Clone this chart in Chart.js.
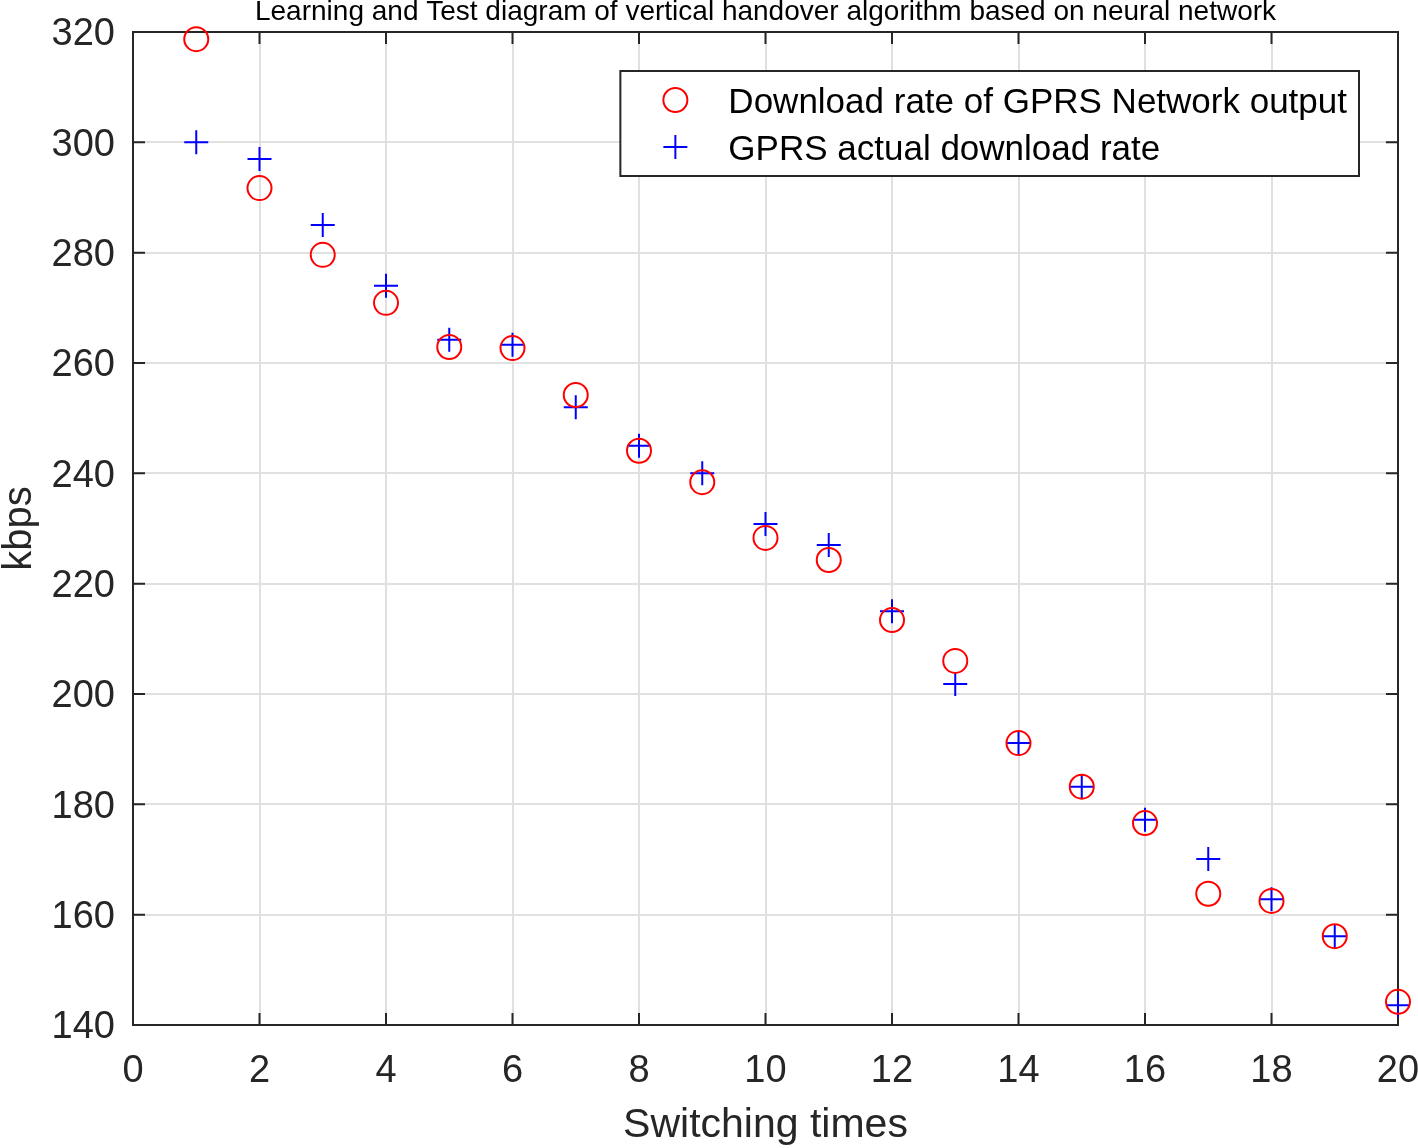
<!DOCTYPE html>
<html>
<head>
<meta charset="utf-8">
<script src="https://cdn.jsdelivr.net/npm/chart.js@4.4.0/dist/chart.umd.min.js"></script>
<style>
  html, body { margin: 0; padding: 0; background: #fff; }
</style>
</head>
<body>
<canvas id="chart" width="1418" height="1148"></canvas>
<script>
// switching index and the two download-rate series (kbps)
const switchTimes = [1, 2, 3, 4, 5, 6, 7, 8, 9, 10, 11, 12, 13, 14, 15, 16, 17, 18, 19, 20];
const networkOutput = [318.7, 291.7, 279.6, 270.9, 262.9, 262.7, 254.2, 244.1, 238.4, 228.3,
                       224.3, 213.4, 206.0, 191.1, 183.2, 176.6, 163.8, 162.5, 156.1, 144.2];
const actualRate = [300.0, 297.0, 285.0, 274.0, 264.2, 263.3, 252.0, 245.0, 240.0, 230.8,
                    227.0, 215.0, 201.8, 191.1, 183.2, 177.2, 170.1, 162.8, 156.1, 143.6];
const xTicks = [0, 2, 4, 6, 8, 10, 12, 14, 16, 18, 20];
const yTicks = [140, 160, 180, 200, 220, 240, 260, 280, 300, 320];

const FONT = "'Liberation Sans', Arial, sans-serif";
const AXIS_COLOR = '#262626';

// MATLAB style box with inward ticks on all four sides
const boxPlugin = {
    id: 'matlabBox',
    beforeDatasetsDraw(chart) {
        const { ctx, chartArea: a, scales: { x, y } } = chart;
        const len = 12;
        ctx.save();
        ctx.strokeStyle = AXIS_COLOR;
        ctx.lineWidth = 2;
        ctx.beginPath();
        xTicks.forEach(v => {
            const px = x.getPixelForValue(v);
            ctx.moveTo(px, a.bottom); ctx.lineTo(px, a.bottom - len);
            ctx.moveTo(px, a.top); ctx.lineTo(px, a.top + len);
        });
        yTicks.forEach(v => {
            const py = y.getPixelForValue(v);
            ctx.moveTo(a.left, py); ctx.lineTo(a.left + len, py);
            ctx.moveTo(a.right, py); ctx.lineTo(a.right - len, py);
        });
        ctx.stroke();
        ctx.strokeRect(a.left, a.top, a.right - a.left, a.bottom - a.top);
        ctx.restore();
    }
};

// legend box inside the plot, top right
const legendPlugin = {
    id: 'insideLegend',
    afterDatasetsDraw(chart) {
        const { ctx, chartArea: a } = chart;
        const ds = chart.data.datasets;
        ctx.save();
        ctx.font = '35px ' + FONT;
        const textW = Math.max(...ds.map(d => ctx.measureText(d.label).width));
        const w = 108 + textW + 12;
        const h = 105;
        const right = a.right - 39;
        const left = right - w;
        const top = a.top + 39;
        ctx.fillStyle = '#fff';
        ctx.fillRect(left, top, w, h);
        ctx.strokeStyle = AXIS_COLOR;
        ctx.lineWidth = 2;
        ctx.strokeRect(left, top, w, h);
        ds.forEach((d, i) => {
            const cy = top + 29 + i * 47;
            const cx = left + 55;
            ctx.strokeStyle = d.borderColor;
            ctx.lineWidth = d.borderWidth;
            ctx.beginPath();
            if (d.pointStyle === 'circle') {
                ctx.arc(cx, cy, d.pointRadius, 0, Math.PI * 2);
            } else {
                ctx.moveTo(cx - d.pointRadius, cy); ctx.lineTo(cx + d.pointRadius, cy);
                ctx.moveTo(cx, cy - d.pointRadius); ctx.lineTo(cx, cy + d.pointRadius);
            }
            ctx.stroke();
            ctx.fillStyle = '#000';
            ctx.textBaseline = 'middle';
            ctx.fillText(d.label, left + 108, cy + 3);
        });
        ctx.restore();
    }
};

new Chart(document.getElementById('chart'), {
    type: 'scatter',
    data: {
        datasets: [{
            label: 'Download rate of GPRS Network output',
            data: switchTimes.map((t, i) => ({ x: t, y: networkOutput[i] })),
            pointStyle: 'circle',
            pointRadius: 12,
            pointHoverRadius: 12,
            borderColor: '#ff0000',
            backgroundColor: 'rgba(0,0,0,0)',
            borderWidth: 2,
            clip: false
        }, {
            label: 'GPRS actual download rate',
            data: switchTimes.map((t, i) => ({ x: t, y: actualRate[i] })),
            pointStyle: 'cross',
            pointRadius: 12,
            pointHoverRadius: 12,
            borderColor: '#0000ff',
            backgroundColor: '#0000ff',
            borderWidth: 2,
            clip: false
        }]
    },
    options: {
        responsive: false,
        animation: false,
        layout: { padding: { left: 0, right: 20, top: 0, bottom: 0 } },
        plugins: {
            legend: { display: false },
            tooltip: { enabled: false },
            title: {
                display: true,
                text: 'Learning and Test diagram of vertical handover algorithm based on neural network',
                fullSize: false,
                color: '#000',
                font: { family: FONT, size: 28, weight: 'normal', lineHeight: 1 },
                padding: { top: -2, bottom: 6 }
            }
        },
        scales: {
            x: {
                type: 'linear',
                min: 0,
                max: 20,
                border: { display: false },
                grid: { color: '#e0e0e0', lineWidth: 2, drawTicks: false },
                ticks: {
                    stepSize: 2,
                    color: AXIS_COLOR,
                    padding: 24,
                    font: { family: FONT, size: 38 }
                },
                title: {
                    display: true,
                    text: 'Switching times',
                    color: AXIS_COLOR,
                    font: { family: FONT, size: 41, lineHeight: 1.1 },
                    padding: 0
                },
                afterFit(scale) {
                    scale.height = 123;
                    scale.paddingLeft = 0;
                    scale.paddingRight = 0;
                }
            },
            y: {
                type: 'linear',
                min: 140,
                max: 320,
                border: { display: false },
                grid: { color: '#e0e0e0', lineWidth: 2, drawTicks: false },
                ticks: {
                    stepSize: 20,
                    color: AXIS_COLOR,
                    padding: 18,
                    labelOffset: 3,
                    font: { family: FONT, size: 38 }
                },
                title: {
                    display: true,
                    text: 'kbps',
                    color: AXIS_COLOR,
                    font: { family: FONT, size: 40, lineHeight: 1 },
                    padding: 0
                },
                afterFit(scale) {
                    scale.width = 133;
                    scale.paddingTop = 0;
                    scale.paddingBottom = 0;
                }
            }
        }
    },
    plugins: [boxPlugin, legendPlugin]
});
</script>
</body>
</html>
